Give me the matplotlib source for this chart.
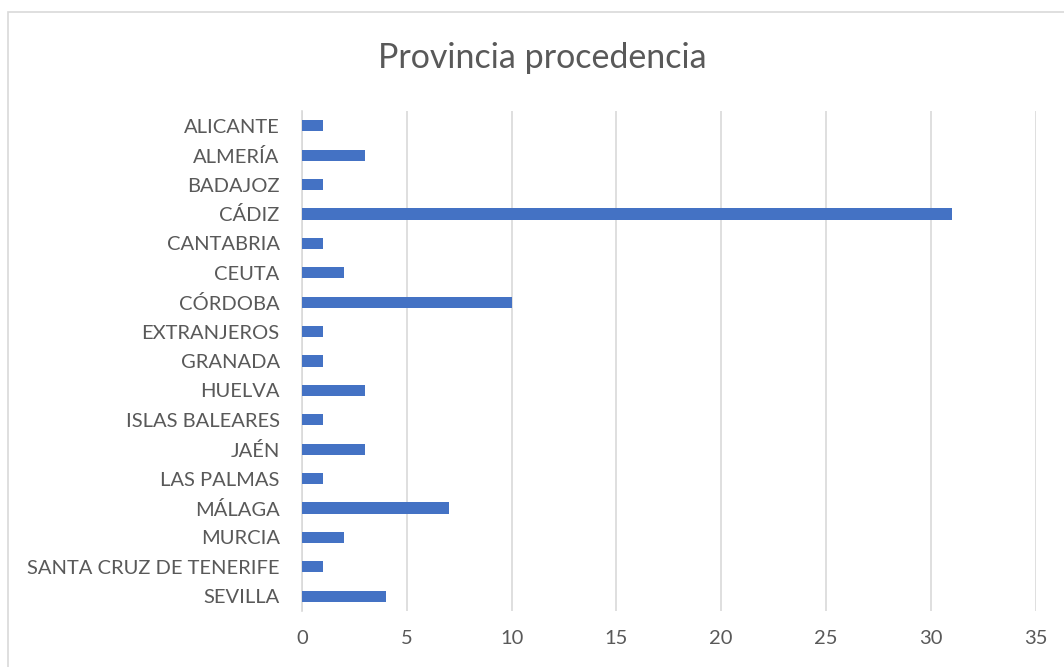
import matplotlib.pyplot as plt
from matplotlib.patches import Rectangle

provinces = ["ALICANTE", "ALMERÍA", "BADAJOZ", "CÁDIZ", "CANTABRIA", "CEUTA",
             "CÓRDOBA", "EXTRANJEROS", "GRANADA", "HUELVA", "ISLAS BALEARES",
             "JAÉN", "LAS PALMAS", "MÁLAGA", "MURCIA", "SANTA CRUZ DE TENERIFE",
             "SEVILLA"]
counts = [1, 3, 1, 31, 1, 2, 10, 1, 1, 3, 1, 3, 1, 7, 2, 1, 4]
x_ticks = [0, 5, 10, 15, 20, 25, 30, 35]

text_color = "#595959"
plt.rcParams["font.family"] = ["Lato", "DejaVu Sans"]

fig = plt.figure(figsize=(10.64, 6.67), dpi=100)
ax = fig.add_axes([0.2838, 0.084, 0.6896, 0.7496])

# outer chart border like Excel (right and bottom edges fall outside the image)
fig.patches.append(Rectangle((8 / 1064, -0.05), 1.1, 1.05 - 12 / 667, transform=fig.transFigure,
                             fill=False, edgecolor="#d9d9d9", linewidth=1.2))

ypos = list(range(len(provinces)))
ax.barh(ypos, counts, height=0.38, color="#4472C4", zorder=3)
ax.set_ylim(len(provinces) - 0.5, -0.5)
ax.set_yticks(ypos)
ax.set_yticklabels(provinces)
ax.set_xlim(0, 35)
ax.set_xticks(x_ticks)

ax.grid(axis="x", color="#d9d9d9", linewidth=1.2, zorder=0)
for side in ["top", "right", "bottom"]:
    ax.spines[side].set_visible(False)
ax.spines["left"].set_color("#d9d9d9")
ax.spines["left"].set_linewidth(1.2)
ax.tick_params(length=0, colors=text_color, labelsize=14.5)
ax.tick_params(axis="y", pad=16)
ax.tick_params(axis="x", pad=14)

fig.text(0.51, 0.913, "Provincia procedencia", ha="center", va="center",
         fontsize=24.5, color=text_color)

fig.savefig("out.png", dpi=100)
